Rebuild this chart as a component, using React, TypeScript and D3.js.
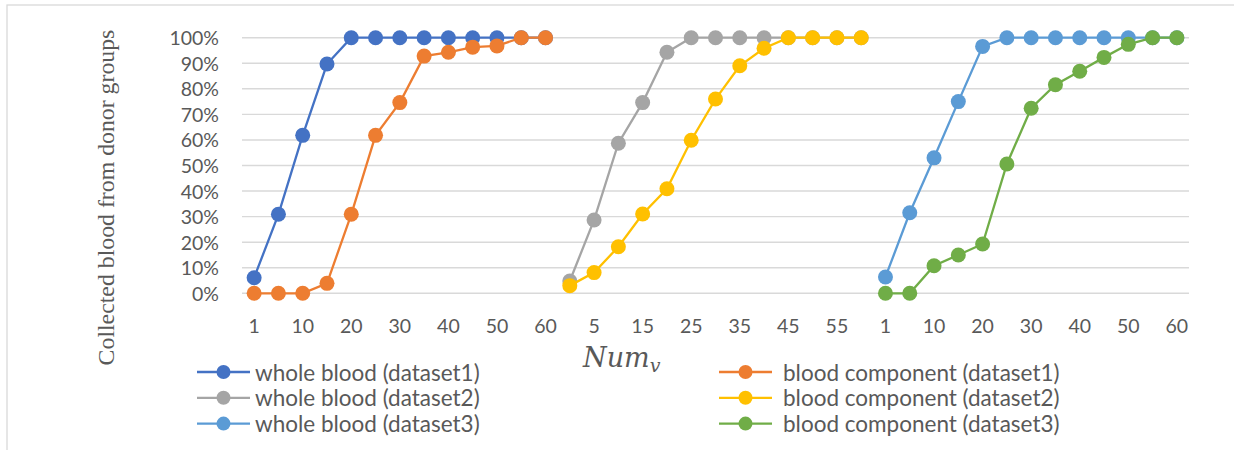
import React from 'react';
import * as d3 from 'd3';

// Num_v categories, repeated for each dataset group on the x axis
const numV = ['1', '5', '10', '15', '20', '25', '30', '35', '40', '45', '50', '55', '60'];
const datasets = ['dataset1', 'dataset2', 'dataset3'];
const yTicks = [0, 10, 20, 30, 40, 50, 60, 70, 80, 90, 100];

// percentages
const wholeBlood1 = [6.1, 30.9, 61.8, 89.7, 100, 100, 100, 100, 100, 100, 100, 100, 100];
const component1 = [0, 0, 0, 3.9, 30.9, 61.8, 74.6, 92.8, 94.3, 96.3, 96.8, 100, 100];
const wholeBlood2 = [4.8, 28.7, 58.7, 74.6, 94.3, 100, 100, 100, 100, 100, 100, 100, 100];
const component2 = [3.0, 8.1, 18.2, 31.0, 40.9, 59.9, 76.0, 89.0, 95.9, 100, 100, 100, 100];
const wholeBlood3 = [6.4, 31.5, 53.0, 75.0, 96.6, 100, 100, 100, 100, 100, 100, 100, 100];
const component3 = [0, 0, 10.8, 15.0, 19.3, 50.6, 72.4, 81.6, 86.9, 92.3, 97.4, 100, 100];

const series = [
  { name: 'whole blood (dataset1)', group: 0, values: wholeBlood1, color: '#4472C4' },
  { name: 'blood component (dataset1)', group: 0, values: component1, color: '#ED7D31' },
  { name: 'whole blood (dataset2)', group: 1, values: wholeBlood2, color: '#A5A5A5' },
  { name: 'blood component (dataset2)', group: 1, values: component2, color: '#FFC000' },
  { name: 'whole blood (dataset3)', group: 2, values: wholeBlood3, color: '#5B9BD5' },
  { name: 'blood component (dataset3)', group: 2, values: component3, color: '#70AD47' },
];

const W = 1234;
const H = 450;
const font = 'Lato, "Open Sans", sans-serif';
const textColor = '#595959';

export default function App() {
  const keys = datasets.flatMap((d) => numV.map((n) => `${d}|${n}`));

  const x = d3.scalePoint<string>().domain(keys).range([242, 1189]).padding(0.5);
  const y = d3.scaleLinear().domain([0, 100]).range([293.3, 37.7]);

  const line = d3
    .line<{ k: string; v: number }>()
    .x((d) => x(d.k)!)
    .y((d) => y(d.v));

  return (
    <div style={{ position: 'absolute', left: 0, top: 0 }}>
      <svg width={W} height={H} style={{ display: 'block', background: '#fff' }}>
        {/* chart frame */}
        <rect x={7} y={5} width={W} height={H} fill="none" stroke="#d9d9d9" strokeWidth={1.3} />

        {/* gridlines + y ticks */}
        {yTicks.map((t) => (
          <g key={t}>
            <line x1={242} x2={1189} y1={y(t)} y2={y(t)} stroke="#d9d9d9" strokeWidth={1.4} />
            <text
              x={219}
              y={y(t)}
              textAnchor="end"
              dominantBaseline="central"
              fontFamily={font}
              fontSize={19.5}
              fill={textColor}
            >
              {t}%
            </text>
          </g>
        ))}

        {/* x tick labels, every other category */}
        {keys.map((k, i) =>
          i % 2 === 0 ? (
            <text
              key={k}
              x={x(k)}
              y={325}
              textAnchor="middle"
              dominantBaseline="central"
              fontFamily={font}
              fontSize={19.5}
              fill={textColor}
            >
              {k.split('|')[1]}
            </text>
          ) : null
        )}

        {/* axis titles */}
        <text
          transform="translate(106,197.5) rotate(-90)"
          textAnchor="middle"
          dominantBaseline="central"
          fontFamily='"Liberation Serif", "DejaVu Serif", serif'
          fontSize={23.8}
          fill={textColor}
        >
          Collected blood from donor groups
        </text>
        <text
          x={583}
          y={367}
          fontFamily='"DejaVu Serif", "Liberation Serif", serif'
          fontStyle="italic"
          fontSize={27}
          fill={textColor}
        >
          Num
          <tspan fontSize={19} dy={5}>
            v
          </tspan>
        </text>

        {/* series */}
        {series.map((s) => {
          const pts = s.values.map((v, i) => ({ k: `${datasets[s.group]}|${numV[i]}`, v }));
          return (
            <g key={s.name}>
              <path d={line(pts)!} fill="none" stroke={s.color} strokeWidth={2.3} />
              {pts.map((p) => (
                <circle key={p.k} cx={x(p.k)} cy={y(p.v)} r={7.5} fill={s.color} />
              ))}
            </g>
          );
        })}

        {/* legend */}
        {series.map((s, i) => {
          const col = i % 2;
          const row = Math.floor(i / 2);
          const lx = col === 0 ? 197 : 719;
          const ly = 372 + row * 25.8;
          return (
            <g key={s.name} transform={`translate(${lx},${ly})`}>
              <line x1={0} x2={53} y1={0} y2={0} stroke={s.color} strokeWidth={2.3} />
              <circle cx={26.5} cy={0} r={7} fill={s.color} />
              <text
                x={col === 0 ? 58 : 64}
                y={0}
                dominantBaseline="central"
                fontFamily={font}
                fontSize={22.5}
                fill={textColor}
              >
                {s.name}
              </text>
            </g>
          );
        })}
      </svg>
    </div>
  );
}
